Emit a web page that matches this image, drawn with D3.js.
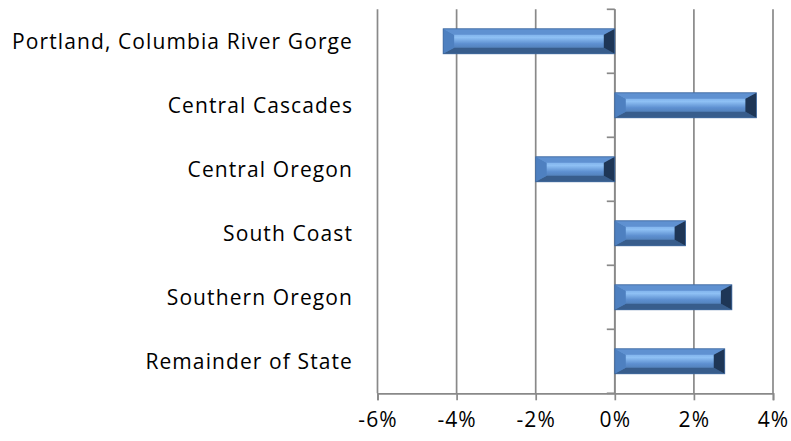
<!DOCTYPE html>
<html><head><meta charset="utf-8">
<script src="https://cdn.jsdelivr.net/npm/d3@7"></script>
<style>body{margin:0;background:#fff}svg{display:block}</style>
</head><body>
<svg id="c" width="791" height="441"></svg>
<script>
const categories = ["Portland, Columbia River Gorge","Central Cascades","Central Oregon","South Coast","Southern Oregon","Remainder of State"];
const values = [-4.34, 3.58, -2.0, 1.79, 2.96, 2.78];
const xTicks = [-6,-4,-2,0,2,4];

const svg = d3.select("#c");
const x = d3.scaleLinear().domain([-6,4]).range([377.5,773]);
const y = d3.scaleBand().domain(categories).range([9.3,393.3]).paddingInner(0.61).paddingOuter(0.305);
const band = d3.scaleBand().domain(categories).range([9.3,393.3]);
const grid = "#898989";
const sw = 1.7;
const font = "'Open Sans', sans-serif";
const fs = 21;
const ls = "1.1px";

const defs = svg.append("defs");
const g1 = defs.append("linearGradient").attr("id","mid").attr("x1",0).attr("y1",0).attr("x2",0).attr("y2",1);
g1.append("stop").attr("offset","0").attr("stop-color","#6a9ee0");
g1.append("stop").attr("offset","0.35").attr("stop-color","#8ec0f4");
g1.append("stop").attr("offset","0.6").attr("stop-color","#5d8fd0");
g1.append("stop").attr("offset","1").attr("stop-color","#46709f");

// gridlines
svg.append("g").selectAll("line").data(xTicks).join("line")
  .attr("x1",d=>x(d)).attr("x2",d=>x(d)).attr("y1",9.3).attr("y2",393.3)
  .attr("stroke",grid).attr("stroke-width",sw);

// bottom axis
const ax = svg.append("g").attr("transform","translate(0,393.3)")
  .call(d3.axisBottom(x).tickValues(xTicks).tickSize(7).tickPadding(12).tickFormat(d=>d+"%"));
ax.select(".domain").attr("stroke",grid).attr("stroke-width",sw);
ax.selectAll(".tick line").attr("stroke",grid).attr("stroke-width",sw);
ax.selectAll("text").attr("font-family",font).attr("font-size",fs).attr("letter-spacing",ls).attr("fill","#000");

// vertical axis at 0
const ay = svg.append("g").attr("transform",`translate(${x(0)},0)`);
ay.append("line").attr("x1",0).attr("x2",0).attr("y1",9.3).attr("y2",393.3).attr("stroke",grid).attr("stroke-width",sw);
const edges = categories.map(c=>band(c)).concat([393.3]);
ay.selectAll(".tk").data(edges).join("line").attr("class","tk")
  .attr("x1",-8).attr("x2",0).attr("y1",d=>d).attr("y2",d=>d).attr("stroke",grid).attr("stroke-width",sw);

// category labels
svg.append("g").selectAll("text").data(categories).join("text")
  .attr("x",353).attr("y",d=>band(d)+band.bandwidth()/2).attr("dy","0.35em")
  .attr("text-anchor","end").attr("font-family",font).attr("font-size",fs).attr("letter-spacing",ls).attr("fill","#000")
  .text(d=>d);

// bars with bevel
const bars = svg.append("g").selectAll("g").data(categories.map((c,i)=>({c,v:values[i]}))).join("g");
bars.each(function(d){
  const g = d3.select(this);
  const x0 = Math.min(x(0),x(d.v)), x1 = Math.max(x(0),x(d.v));
  const y0 = y(d.c), y1 = y0 + y.bandwidth();
  const bx = 11, by = 6;
  const poly = pts => pts.map(p=>p.join(",")).join(" ");
  g.append("rect").attr("x",x0).attr("y",y0).attr("width",x1-x0).attr("height",y1-y0).attr("fill","url(#mid)");
  g.append("polygon").attr("points",poly([[x0,y0],[x1,y0],[x1-bx,y0+by],[x0+bx,y0+by]])).attr("fill","#5f91d1");
  g.append("polygon").attr("points",poly([[x0,y1],[x1,y1],[x1-bx,y1-by],[x0+bx,y1-by]])).attr("fill","#385d8c");
  g.append("polygon").attr("points",poly([[x0,y0],[x0+bx,y0+by],[x0+bx,y1-by],[x0,y1]])).attr("fill","#4e80c0");
  g.append("polygon").attr("points",poly([[x1,y0],[x1-bx,y0+by],[x1-bx,y1-by],[x1,y1]])).attr("fill","#1e3656");
  g.append("rect").attr("x",x0).attr("y",y0).attr("width",x1-x0).attr("height",y1-y0).attr("fill","none").attr("stroke","#3c669c").attr("stroke-width",0.8);
});
</script>
</body></html>
